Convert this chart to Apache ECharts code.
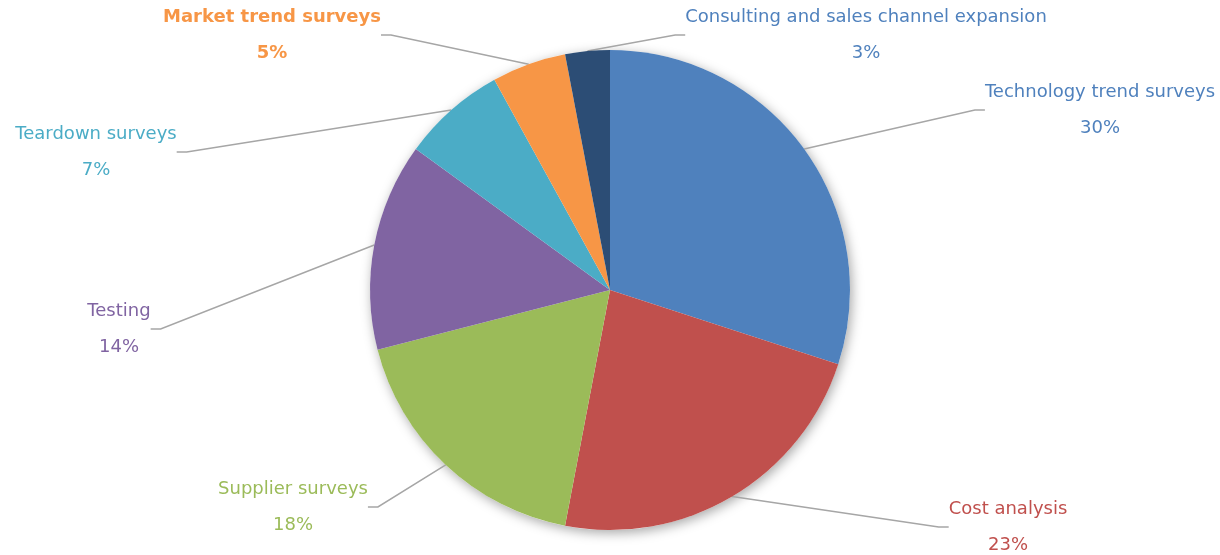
<!DOCTYPE html>
<html>
<head>
<meta charset="utf-8">
<script src="https://cdn.jsdelivr.net/npm/echarts@6/dist/echarts.min.js"></script>
<style>html,body{margin:0;padding:0;background:#fff;}#chart{width:1220px;height:555px;}</style>
</head>
<body>
<div id="chart"></div>
<script>
const categories = ["Technology trend surveys", "Cost analysis", "Supplier surveys", "Testing", "Teardown surveys", "Market trend surveys", "Consulting and sales channel expansion"];
const values = [30, 23, 18, 14, 7, 5, 3];
const sliceColors = ["#4F81BD", "#C0504D", "#9BBB59", "#8064A2", "#4BACC6", "#F79646", "#2C4D75"];
const labelColors = ["#4F81BD", "#C0504D", "#9BBB59", "#8064A2", "#4BACC6", "#F79646", "#4F81BD"];
const boldLabels = ["Market trend surveys"];
// label block centres (px) for manual placement
const labelAnchors = [[1100, 110], [1008, 527], [293, 507], [119, 329], [96, 152], [272, 35], [866, 35]];

const chart = echarts.init(document.getElementById('chart'));
chart.setOption({
  animation: false,
  series: [{
    type: 'pie',
    silent: true,
    z: 1,
    center: [610, 290],
    radius: [0, 240],
    label: { show: false },
    labelLine: { show: false },
    itemStyle: { color: '#ffffff', shadowBlur: 12, shadowColor: 'rgba(0,0,0,0.35)', shadowOffsetX: 2, shadowOffsetY: 3 },
    data: [{ name: 'shadow', value: 1 }]
  }, {
    type: 'pie',
    z: 2,
    center: [610, 290],
    radius: [0, 240],
    startAngle: 90,
    clockwise: true,
    avoidLabelOverlap: false,
    itemStyle: { borderWidth: 0 },
    label: {
      show: true,
      fontFamily: 'DejaVu Sans',
      fontSize: 18,
      lineHeight: 36,
      align: 'center',
      formatter: p => p.name + '\n' + Math.round(p.percent) + '%'
    },
    labelLine: { show: true, lineStyle: { color: '#A6A6A6', width: 1.5 }, length: 10, length2: 10 },
    labelLayout: function (params) {
      const a = labelAnchors[params.dataIndex];
      return { x: a[0], y: a[1], align: 'center', verticalAlign: 'middle' };
    },
    emphasis: { disabled: true },
    data: categories.map((c, i) => ({
      name: c,
      value: values[i],
      itemStyle: { color: sliceColors[i] },
      label: { color: labelColors[i], fontWeight: boldLabels.includes(c) ? 'bold' : 'normal' }
    }))
  }]
});
</script>
</body>
</html>
